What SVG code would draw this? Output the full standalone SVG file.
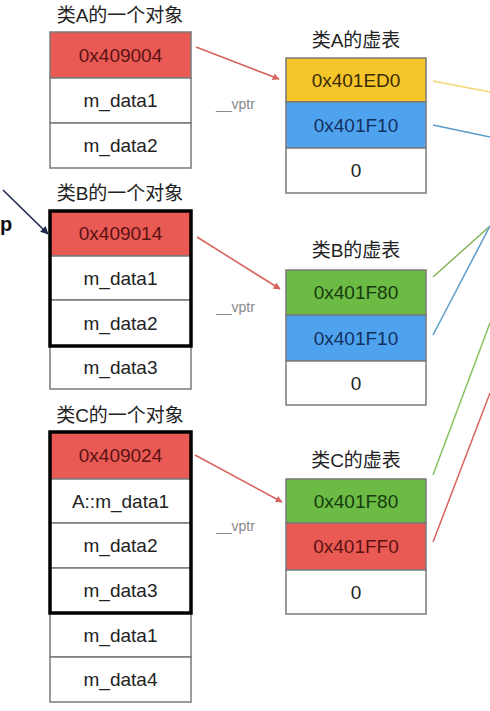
<svg xmlns="http://www.w3.org/2000/svg" width="490" height="711" viewBox="0 0 490 711">
<style>
.t{font-family:"Liberation Sans","Noto Sans CJK SC",sans-serif;font-size:19px;text-anchor:middle;fill:#222}
.c{font-family:"Liberation Sans",Arial,sans-serif;font-size:19px;text-anchor:middle;fill:#222}
.v{font-family:"Liberation Sans",Arial,sans-serif;font-size:14px;fill:#888}
.cell{stroke:#7a7a7a;stroke-width:1.5}
.w{fill:#fff}
.r{fill:#EA5A55}
.y{fill:#F5C52A}
.b{fill:#4FA3EE}
.g{fill:#6CBB44}
.tr{fill:#5a1212}
.ty{fill:#3a2c05}
.tb{fill:#12305e}
.tg{fill:#173a0e}
.thick{fill:none;stroke:#000;stroke-width:3.5}
.arr{stroke:#D9645E;stroke-width:1.6;fill:none}
.ln{stroke-width:1.5;fill:none}
</style>
<defs>
<marker id="ah" viewBox="0 0 10 10" refX="9" refY="5" markerWidth="7" markerHeight="7" orient="auto" markerUnits="userSpaceOnUse">
<path d="M0,0 L10,5 L0,10 z" fill="#D9645E"/>
</marker>
<marker id="ahp" viewBox="0 0 10 10" refX="9" refY="5" markerWidth="8" markerHeight="8" orient="auto" markerUnits="userSpaceOnUse">
<path d="M0,0 L10,5 L0,10 z" fill="#1a2a4a"/>
</marker>
</defs>
<rect width="490" height="711" fill="#fff"/>

<g id="objA">
<text class="t" x="120" y="22">类A的一个对象</text>
<rect class="cell r" x="50" y="32" width="141" height="46"/>
<text class="c tr" x="120.5" y="62">0x409004</text>
<rect class="cell w" x="50" y="78" width="141" height="45"/>
<text class="c" x="120.5" y="107">m_data1</text>
<rect class="cell w" x="50" y="123" width="141" height="45"/>
<text class="c" x="120.5" y="152">m_data2</text>
</g>

<g id="objB">
<text class="t" x="120" y="200">类B的一个对象</text>
<rect class="cell r" x="50" y="211" width="141" height="45"/>
<text class="c tr" x="120.5" y="240">0x409014</text>
<rect class="cell w" x="50" y="256" width="141" height="44"/>
<text class="c" x="120.5" y="285">m_data1</text>
<rect class="cell w" x="50" y="300" width="141" height="46"/>
<text class="c" x="120.5" y="330">m_data2</text>
<rect class="cell w" x="50" y="346" width="141" height="43"/>
<text class="c" x="120.5" y="374">m_data3</text>
<rect class="thick" x="50" y="211" width="141" height="135"/>
</g>

<g id="objC">
<text class="t" x="120" y="422">类C的一个对象</text>
<rect class="cell r" x="50" y="432" width="141" height="47"/>
<text class="c tr" x="120.5" y="462">0x409024</text>
<rect class="cell w" x="50" y="479" width="141" height="44"/>
<text class="c" x="120.5" y="508">A::m_data1</text>
<rect class="cell w" x="50" y="523" width="141" height="45"/>
<text class="c" x="120.5" y="552">m_data2</text>
<rect class="cell w" x="50" y="568" width="141" height="45"/>
<text class="c" x="120.5" y="597">m_data3</text>
<rect class="cell w" x="50" y="613" width="141" height="44"/>
<text class="c" x="120.5" y="642">m_data1</text>
<rect class="cell w" x="50" y="657" width="141" height="45"/>
<text class="c" x="120.5" y="686">m_data4</text>
<rect class="thick" x="50" y="432" width="141" height="181"/>
</g>

<g id="vtA">
<text class="t" x="356" y="47">类A的虚表</text>
<rect class="cell y" x="286" y="58" width="140" height="44"/>
<text class="c ty" x="356" y="87">0x401ED0</text>
<rect class="cell b" x="286" y="102" width="140" height="46"/>
<text class="c tb" x="356" y="132">0x401F10</text>
<rect class="cell w" x="286" y="148" width="140" height="45"/>
<text class="c" x="356" y="177">0</text>
</g>

<g id="vtB">
<text class="t" x="356" y="257">类B的虚表</text>
<rect class="cell g" x="286" y="270" width="140" height="45"/>
<text class="c tg" x="356" y="299">0x401F80</text>
<rect class="cell b" x="286" y="315" width="140" height="46"/>
<text class="c tb" x="356" y="345">0x401F10</text>
<rect class="cell w" x="286" y="361" width="140" height="44"/>
<text class="c" x="356" y="390">0</text>
</g>

<g id="vtC">
<text class="t" x="356" y="467">类C的虚表</text>
<rect class="cell g" x="286" y="479" width="140" height="44"/>
<text class="c tg" x="356" y="508">0x401F80</text>
<rect class="cell r" x="286" y="523" width="140" height="47"/>
<text class="c tr" x="356" y="553">0x401FF0</text>
<rect class="cell w" x="286" y="570" width="140" height="44"/>
<text class="c" x="356" y="599">0</text>
</g>

<g id="labels">
<text class="v" x="216" y="109">__vptr</text>
<text class="v" x="216" y="312">__vptr</text>
<text class="v" x="216" y="531">__vptr</text>
<text x="0" y="231" style="font-family:'Liberation Sans',Arial,sans-serif;font-size:20px;font-weight:bold;fill:#111">p</text>
</g>

<g id="connectors">
<line class="arr" x1="196" y1="47" x2="279" y2="79" marker-end="url(#ah)"/>
<line class="arr" x1="197" y1="237" x2="280" y2="289" marker-end="url(#ah)"/>
<line class="arr" x1="195" y1="455" x2="282" y2="502" marker-end="url(#ah)"/>
<line x1="3" y1="190" x2="48" y2="234" stroke="#1a2a4a" stroke-width="1.6" marker-end="url(#ahp)"/>
<line class="ln" x1="433" y1="81" x2="490" y2="92" stroke="#F3D772"/>
<line class="ln" x1="433" y1="125" x2="490" y2="137" stroke="#5B9CCB"/>
<line class="ln" x1="433" y1="277" x2="490" y2="226" stroke="#86B45A"/>
<line class="ln" x1="433" y1="335" x2="490" y2="226" stroke="#5B9CCB"/>
<line class="ln" x1="433" y1="475" x2="490" y2="323" stroke="#8CC160"/>
<line class="ln" x1="433" y1="542" x2="490" y2="393" stroke="#D9625E"/>
</g>
</svg>
